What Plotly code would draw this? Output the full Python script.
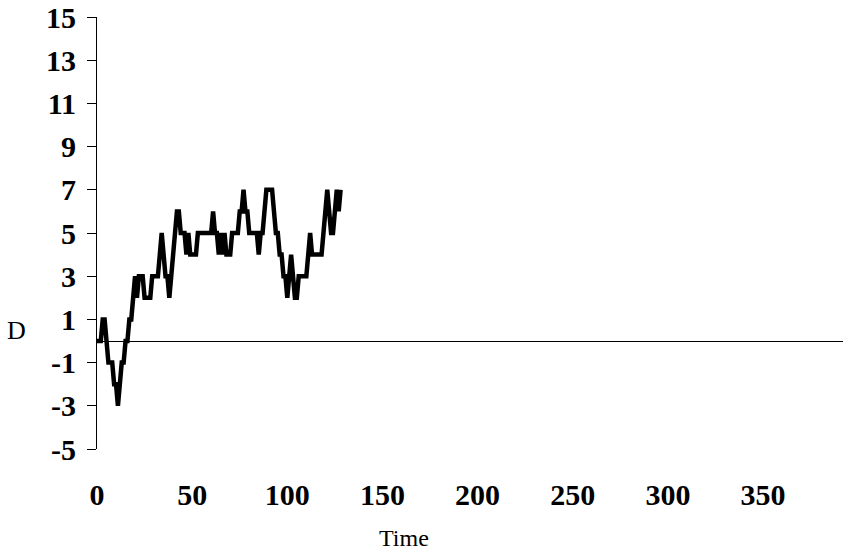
import plotly.graph_objects as go

# Time steps and D values
time = list(range(0, 129))
d_values = [
    0, 0, 0, 1, 1, 0, -1, -1, -1, -2,
    -2, -3, -2, -1, -1, 0, 0, 1, 1, 2,
    3, 2, 3, 3, 3, 2, 2, 2, 2, 3,
    3, 3, 3, 4, 5, 4, 3, 3, 2, 3,
    4, 5, 6, 6, 5, 5, 5, 4, 5, 4,
    4, 4, 4, 5, 5, 5, 5, 5, 5, 5,
    5, 6, 5, 5, 4, 5, 4, 5, 4, 4,
    4, 5, 5, 5, 5, 6, 6, 7, 6, 6,
    5, 5, 5, 5, 5, 4, 5, 5, 6, 7,
    7, 7, 7, 6, 5, 5, 4, 4, 3, 3,
    2, 3, 4, 3, 2, 2, 3, 3, 3, 3,
    3, 4, 5, 4, 4, 4, 4, 4, 4, 5,
    6, 7, 6, 5, 5, 6, 7, 6, 7,
]
y_ticks = [-5, -3, -1, 1, 3, 5, 7, 9, 11, 13, 15]
x_ticks = [0, 50, 100, 150, 200, 250, 300, 350]

serif = "Liberation Serif, Times New Roman, serif"

fig = go.Figure()
fig.add_trace(go.Scatter(
    x=time, y=d_values, mode="lines",
    line=dict(color="black", width=4.5),
    hoverinfo="skip", showlegend=False,
))

fig.update_layout(
    width=843, height=550,
    margin=dict(l=97, r=0, t=15, b=101),
    paper_bgcolor="white", plot_bgcolor="white",
    xaxis=dict(
        range=[0, 392], tickvals=x_ticks, ticktext=[str(v) for v in x_ticks],
        showline=False, showgrid=False, zeroline=False, ticks="",
        tickfont=dict(family=serif, size=30, color="black", weight="bold"),
        ticklabelstandoff=25, ticklabeloverflow="allow",
    ),
    yaxis=dict(
        range=[-5, 15], tickvals=y_ticks, ticktext=[str(v) for v in y_ticks],
        showline=True, linecolor="black", linewidth=1,
        ticks="outside", ticklen=9, tickcolor="black", tickwidth=1,
        showgrid=False, zeroline=True, zerolinecolor="black", zerolinewidth=1,
        tickfont=dict(family=serif, size=30, color="black", weight="bold"),
        ticklabelstandoff=5, ticklabeloverflow="allow",
    ),
    annotations=[
        dict(text="D", xref="paper", yref="paper", x=-97/746 + 16.5/746, y=(449 - 329.5) / 434,
             xanchor="center", yanchor="middle", showarrow=False,
             font=dict(family=serif, size=26, color="black")),
        dict(text="Time", xref="paper", yref="paper", x=(404 - 97) / 746, y=-(538 - 449) / 434,
             xanchor="center", yanchor="middle", showarrow=False,
             font=dict(family=serif, size=24, color="black")),
    ],
)

fig.write_html("out.html", config={"displayModeBar": False},
               post_script="document.body.style.margin='0';")
